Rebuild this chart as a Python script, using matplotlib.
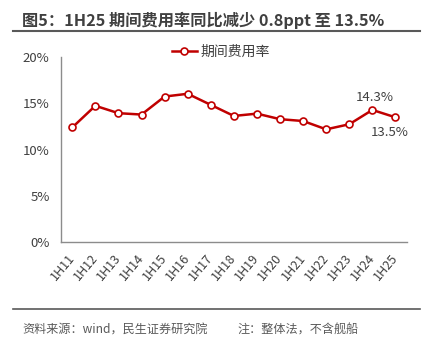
import matplotlib
matplotlib.use("Agg")
import matplotlib.pyplot as plt
from matplotlib.lines import Line2D

plt.rcParams['font.family'] = ['Noto Sans CJK SC', 'DejaVu Sans']

categories = ["1H11", "1H12", "1H13", "1H14", "1H15", "1H16", "1H17", "1H18",
              "1H19", "1H20", "1H21", "1H22", "1H23", "1H24", "1H25"]
expense_ratio = [12.4, 14.75, 13.95, 13.8, 15.75, 16.05, 14.85, 13.65,
                 13.9, 13.3, 13.1, 12.2, 12.75, 14.3, 13.5]
series_name = "期间费用率"
yticks = [0, 5, 10, 15, 20]
ytick_labels = ["0%", "5%", "10%", "15%", "20%"]
title = "图5：1H25 期间费用率同比减少 0.8ppt 至 13.5%"
source = "资料来源：wind，民生证券研究院"
note = "注：整体法，不含舰船"

RED = "#C00000"
TXT = "#404040"

fig = plt.figure(figsize=(4.35, 3.42), dpi=100)
ax = fig.add_axes([60.7/435, 1-242/342, (407-60.7)/435, (242-57.3)/342])

x = list(range(len(categories)))
ax.plot(x, expense_ratio, color=RED, lw=1.8, marker='o', ms=5,
        mfc='white', mec=RED, mew=1.2, zorder=3)

ax.set_xlim(-0.5, len(categories) - 0.5)
ax.set_ylim(0, 20)
ax.set_yticks(yticks)
ax.set_yticklabels(ytick_labels, fontsize=9.5, color=TXT)
ax.set_xticks(x)
ax.set_xticklabels(categories, rotation=50, ha='right', va='center',
                   rotation_mode='anchor', fontsize=9, color=TXT)
ax.tick_params(axis='y', length=0, pad=8)
ax.tick_params(axis='x', length=0, pad=10)
for s in ['top', 'right']:
    ax.spines[s].set_visible(False)
for s in ['left', 'bottom']:
    ax.spines[s].set_color('#8c8c8c')
    ax.spines[s].set_linewidth(1.0)

# data labels
ax.annotate(f"{expense_ratio[13]:.1f}%", (13, expense_ratio[13]), xytext=(1.5, 9),
            textcoords='offset points', ha='center', va='center', fontsize=9.5, color=TXT)
ax.annotate(f"{expense_ratio[14]:.1f}%", (14, expense_ratio[14]), xytext=(-4, -11),
            textcoords='offset points', ha='center', va='center', fontsize=9.5, color=TXT)

# legend
handle = Line2D([], [], color=RED, lw=1.8, marker='o', ms=5, mfc='white', mec=RED, mew=1.2)
fig.legend([handle], [series_name], loc='center', bbox_to_anchor=(221/435, 1-52/342),
           frameon=False, fontsize=10, handlelength=1.8, handletextpad=0.3,
           labelcolor=TXT)

# title and rules
fig.text(22/435, 1-20/342, title, fontsize=11.7, fontweight='bold', color='#404040',
         ha='left', va='center')
fig.add_artist(Line2D([13/435, 420/435], [1-31/342, 1-31/342], color='#595959', lw=1.5))
fig.add_artist(Line2D([13/435, 420/435], [1-309/342, 1-309/342], color='#595959', lw=1.2))
fig.text(22/435, 1-330.5/342, source, fontsize=8.7, color='#595959', ha='left', va='center')
fig.text(237/435, 1-330.5/342, note, fontsize=8.7, color='#595959', ha='left', va='center')

fig.savefig("out.png", dpi=100)
